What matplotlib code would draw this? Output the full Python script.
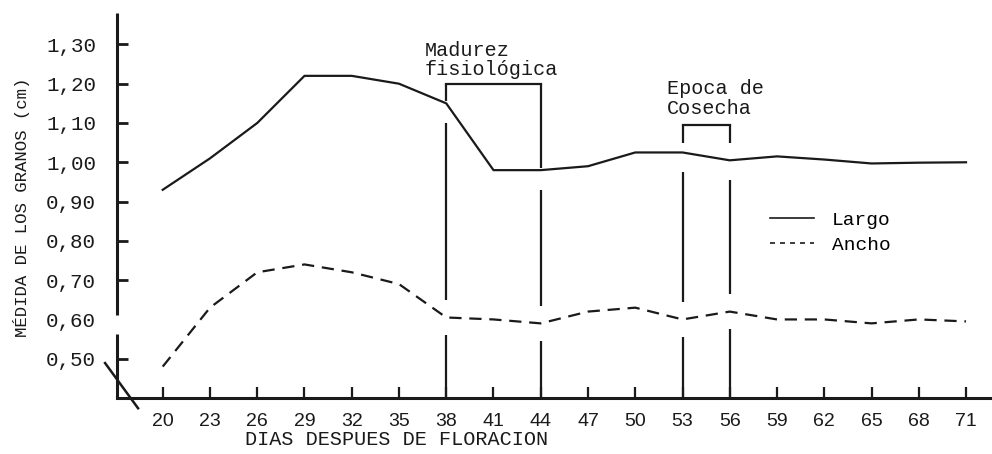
import matplotlib
matplotlib.use("Agg")
import matplotlib.pyplot as plt
from matplotlib.lines import Line2D

# days after flowering
dias = [20, 23, 26, 29, 32, 35, 38, 41, 44, 47, 50, 53, 56, 59, 62, 65, 68, 71]
largo = [0.93, 1.01, 1.10, 1.22, 1.22, 1.20, 1.15, 0.98, 0.98, 0.99, 1.025, 1.025,
         1.005, 1.015, 1.007, 0.997, 0.999, 1.00]
ancho = [0.48, 0.63, 0.72, 0.74, 0.72, 0.69, 0.605, 0.60, 0.59, 0.62, 0.63, 0.60,
         0.62, 0.60, 0.60, 0.59, 0.60, 0.595]

y_ticks = [0.50, 0.60, 0.70, 0.80, 0.90, 1.00, 1.10, 1.20, 1.30]
y_labels = ["0,50", "0,60", "0,70", "0,80", "0,90", "1,00", "1,10", "1,20", "1,30"]

madurez = (38, 44)
cosecha = (53, 56)

MONO = "Liberation Mono"
INK = "#1a1a1a"
LW = 1.6

fig = plt.figure(figsize=(9.92, 4.54), dpi=100)
ax = fig.add_axes([0.118, 0.1233, 0.882, 0.8481])
ax.set_xlim(17.1, 72.65)
ax.set_ylim(0.40, 1.38)

ax.plot(dias, largo, color=INK, lw=LW, solid_joinstyle="round")
ax.plot(dias, ancho, color=INK, lw=LW, dashes=(5.5, 3.5))

# spines: left one is broken between 0,70 and 0,50
for s in ["top", "right", "left"]:
    ax.spines[s].set_visible(False)
ax.spines["bottom"].set_linewidth(2.2)
ax.spines["bottom"].set_color(INK)
ytr = ax.get_yaxis_transform()
ax.plot([0, 0], [0.40, 0.563], color=INK, lw=2.2, transform=ytr, clip_on=False,
        solid_capstyle="butt")
ax.plot([0, 0], [0.612, 1.38], color=INK, lw=2.2, transform=ytr, clip_on=False,
        solid_capstyle="butt")
# break mark across the corner
ax.plot([-0.0137, 0.0240], [0.489, 0.374], color=INK, lw=1.8, transform=ytr,
        clip_on=False)

ax.set_yticks(y_ticks)
ax.set_yticklabels(y_labels, fontfamily=MONO, fontsize=15)
ax.yaxis.get_major_ticks()[1].tick1line.set_visible(False)
ax.tick_params(axis="y", direction="in", length=8, width=2.0, pad=15, colors=INK)

ax.set_xticks(dias)
ax.set_xticklabels([str(d) for d in dias], fontfamily="Liberation Sans", fontsize=14)
ax.tick_params(axis="x", direction="in", length=8, width=1.6, pad=11, colors=INK)

# vertical marker lines with gaps around the curves
def marker_line(x, top, leg_top=None):
    i = dias.index(x)
    segs = [(0.40, ancho[i] - 0.045), (ancho[i] + 0.045, largo[i] - 0.05)]
    if leg_top is None:
        segs.append((largo[i] + 0.005, top))
    for y0, y1 in segs:
        ax.plot([x, x], [y0, y1], color=INK, lw=LW, solid_capstyle="butt")

for x in madurez:
    marker_line(x, 1.20)
ax.plot([madurez[0], madurez[1]], [1.20, 1.20], color=INK, lw=LW)

for x in cosecha:
    marker_line(x, None, leg_top=1.095)
    ax.plot([x, x], [1.05, 1.095], color=INK, lw=LW, solid_capstyle="butt")
ax.plot([cosecha[0], cosecha[1]], [1.095, 1.095], color=INK, lw=LW)

ax.text(36.65, 1.26, "Madurez\nfisiológica", fontfamily=MONO, fontsize=14.5,
        ha="left", va="center", linespacing=1.0, color=INK)
ax.text(52.0, 1.162, "Epoca de\nCosecha", fontfamily=MONO, fontsize=14.5,
        ha="left", va="center", linespacing=1.05, color=INK)

handles = [Line2D([], [], color=INK, lw=1.2),
           Line2D([], [], color=INK, lw=1.2, dashes=(3, 3))]
ax.legend(handles, ["Largo", "Ancho"], loc="upper left",
          bbox_to_anchor=(0.746, 0.485), frameon=False, borderpad=0,
          borderaxespad=0, handlelength=2.3, handletextpad=0.9,
          labelspacing=0.4, prop={"family": MONO, "size": 14})

fig.text(0.022, 0.544, "MÉDIDA DE LOS GRANOS (cm)", rotation=90, ha="center",
         va="center", fontfamily=MONO, fontsize=12.5, color=INK)
fig.text(0.40, 0.031, "DIAS DESPUES DE FLORACION", ha="center", va="center",
         fontfamily=MONO, fontsize=14.5, color=INK)

fig.savefig("out.png", dpi=100)
